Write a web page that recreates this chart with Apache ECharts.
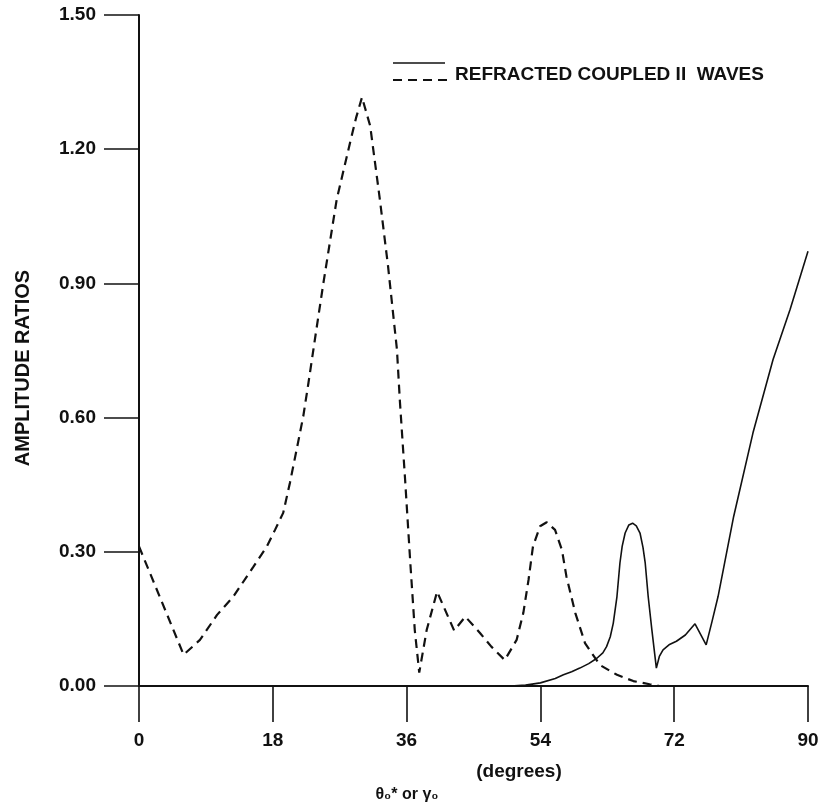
<!DOCTYPE html>
<html>
<head>
<meta charset="utf-8">
<title>Refracted coupled II waves</title>
<script src="https://cdn.jsdelivr.net/npm/echarts@6/dist/echarts.min.js"></script>
<style>
  html, body { margin: 0; padding: 0; background: #fff; }
  #chart { width: 823px; height: 810px; }
</style>
</head>
<body>
<div id="chart"></div>
<script>
// tick values
const xTicks = [0, 18, 36, 54, 72, 90];
const yTicks = [0, 0.3, 0.6, 0.9, 1.2, 1.5];

// solid curve (angle in degrees, amplitude ratio)
const solidX = [48, 50, 52, 54, 56, 57.1, 58.2, 59.3, 60.5, 61.6, 62.4, 62.9, 63.4, 63.8, 64.3, 64.7, 65.0, 65.4, 65.9, 66.4, 66.9, 67.4, 67.8, 68.1, 68.5, 69.0, 69.6, 70.0, 70.5, 71.3, 72.3, 73.5, 74.8, 76.3, 77.1, 77.9, 80.0, 82.6, 85.3, 87.6, 90];
const solidY = [0, 0, 0.002, 0.007, 0.017, 0.025, 0.032, 0.040, 0.050, 0.062, 0.074, 0.088, 0.110, 0.140, 0.200, 0.275, 0.312, 0.342, 0.360, 0.364, 0.358, 0.342, 0.310, 0.275, 0.200, 0.125, 0.040, 0.066, 0.081, 0.092, 0.100, 0.114, 0.139, 0.092, 0.145, 0.200, 0.379, 0.566, 0.730, 0.842, 0.972];

// dashed curve
const dashX = [0, 6, 8.2, 10.5, 12.7, 15.4, 17.2, 18.3, 19.4, 20.3, 21.2, 22.1, 22.8, 23.8, 24.8, 26.6, 28.4, 29.2, 30.0, 31.1, 32.4, 33.5, 34.7, 35.1, 35.8, 36.5, 37.1, 37.7, 38.7, 40.1, 42.4, 43.9, 45.9, 47.4, 49.2, 50.8, 51.7, 52.4, 53.0, 53.95, 54.85, 55.97, 56.9, 57.5, 58.7, 60.0, 62.0, 64.3, 66.5, 68.7, 70.0];
const dashY = [0.312, 0.070, 0.103, 0.159, 0.200, 0.267, 0.312, 0.349, 0.387, 0.454, 0.528, 0.603, 0.678, 0.790, 0.900, 1.088, 1.215, 1.270, 1.316, 1.252, 1.088, 0.939, 0.752, 0.636, 0.461, 0.275, 0.125, 0.030, 0.125, 0.211, 0.124, 0.155, 0.118, 0.088, 0.058, 0.103, 0.163, 0.237, 0.312, 0.357, 0.366, 0.349, 0.304, 0.245, 0.163, 0.096, 0.047, 0.025, 0.011, 0.004, 0];

const legendText = 'REFRACTED COUPLED II  WAVES';
const yName = 'AMPLITUDE RATIOS';
const xName = '(degrees)';
const xSymbol = 'θ₀* or γ₀';

const ink = '#111';
const font = '"Liberation Sans", Arial, Helvetica, sans-serif';

const chart = echarts.init(document.getElementById('chart'), null, { renderer: 'canvas' });

chart.setOption({
  backgroundColor: '#fff',
  animation: false,
  grid: {
    left: 139,
    right: 15,
    top: 15,
    bottom: 124,
    containLabel: false
  },
  xAxis: {
    type: 'value',
    min: xTicks[0],
    max: xTicks[xTicks.length - 1],
    interval: 18,
    axisLine: { show: true, onZero: false, lineStyle: { color: ink, width: 2 } },
    axisTick: { show: true, inside: false, length: 36, lineStyle: { color: ink, width: 1.6 } },
    axisLabel: {
      margin: 45, // tick length + gap
      color: ink,
      fontFamily: font,
      fontWeight: 'bold',
      fontSize: 19
    },
    splitLine: { show: false }
  },
  yAxis: {
    type: 'value',
    min: yTicks[0],
    max: yTicks[yTicks.length - 1],
    interval: 0.3,
    axisLine: { show: true, onZero: false, lineStyle: { color: ink, width: 2 } },
    axisTick: { show: true, inside: false, length: 35, lineStyle: { color: ink, width: 1.6 } },
    axisLabel: {
      margin: 43,
      color: ink,
      fontFamily: font,
      fontWeight: 'bold',
      fontSize: 19,
      formatter: v => v.toFixed(2)
    },
    splitLine: { show: false }
  },
  series: [{
    name: 'solid',
    type: 'line',
    showSymbol: false,
    lineStyle: { color: ink, width: 1.6, type: 'solid' },
    data: solidX.map((x, i) => [x, solidY[i]]),
    z: 3
  }, {
    name: 'dashed',
    type: 'line',
    showSymbol: false,
    lineStyle: { color: ink, width: 2.2, type: [9, 6] },
    data: dashX.map((x, i) => [x, dashY[i]]),
    z: 3
  }],
  // legend and axis names drawn by hand, like the printed figure
  graphic: [
    { type: 'line', shape: { x1: 393, y1: 63, x2: 445, y2: 63 }, style: { stroke: ink, lineWidth: 1.5 } },
    { type: 'line', shape: { x1: 393, y1: 80, x2: 449, y2: 80 }, style: { stroke: ink, lineWidth: 2.2, lineDash: [9, 6] } },
    {
      type: 'text', x: 455, y: 75,
      style: { text: legendText, fill: ink, font: 'bold 19px ' + font, textAlign: 'left', textVerticalAlign: 'middle' }
    },
    {
      type: 'text', x: 23, y: 368, rotation: Math.PI / 2,
      style: { text: yName, fill: ink, font: 'bold 20px ' + font, textAlign: 'center', textVerticalAlign: 'middle' }
    },
    {
      type: 'text', x: 519, y: 772,
      style: { text: xName, fill: ink, font: 'bold 19px ' + font, textAlign: 'center', textVerticalAlign: 'middle' }
    },
    {
      type: 'text', x: 407, y: 795,
      style: { text: xSymbol, fill: ink, font: 'bold 16px ' + font, textAlign: 'center', textVerticalAlign: 'middle' }
    }
  ]
});
</script>
</body>
</html>
